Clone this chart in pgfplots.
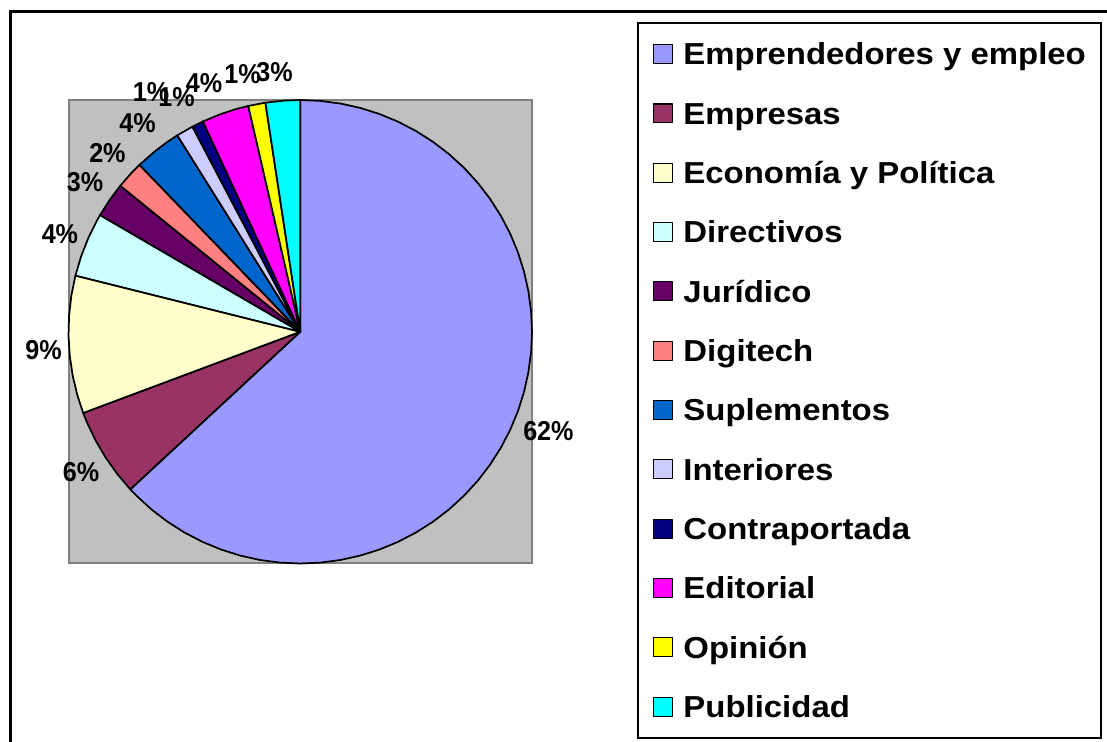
\documentclass[border=0pt]{standalone}
\usepackage{fontspec}
\setmainfont{Liberation Sans}
\newfontfamily\legfam[FakeStretch=1.085]{Liberation Sans}
\newfontfamily\lblfam[FakeStretch=0.92]{Liberation Sans}
\usepackage{pgfplots}
\pgfplotsset{compat=1.18}
\definecolor{plotbg}{RGB}{192,192,192}
\definecolor{plotborder}{RGB}{128,128,128}
\definecolor{cE}{RGB}{153,153,255}
\definecolor{cEm}{RGB}{153,51,102}
\definecolor{cEc}{RGB}{255,255,204}
\definecolor{cD}{RGB}{204,255,255}
\definecolor{cJ}{RGB}{102,0,102}
\definecolor{cDg}{RGB}{255,128,128}
\definecolor{cS}{RGB}{0,102,204}
\definecolor{cI}{RGB}{204,204,255}
\definecolor{cC}{RGB}{0,0,128}
\definecolor{cEd}{RGB}{255,0,255}
\definecolor{cO}{RGB}{255,255,0}
\definecolor{cP}{RGB}{0,255,255}
% Shares (%): Emprendedores 63.1, Empresas 6.2, Economia 9.6, Directivos 4.5,
% Juridico 2.45, Digitech 1.95, Suplementos 3.3, Interiores 1.2, Contraportada 0.8,
% Editorial 3.3, Opinion 1.2, Publicidad 2.4  (slices clockwise from 12 o'clock)
\begin{document}
\begin{tikzpicture}[x=0.75pt,y=0.75pt]
\begin{axis}[
  at={(51.375pt,133.875pt)}, anchor=south west,
  width=347.6pt, height=347.6pt, scale only axis,
  xmin=-1, xmax=1, ymin=-1, ymax=1,
  xtick=\empty, ytick=\empty,
  axis background/.style={fill=plotbg},
  axis line style={draw=plotborder, line width=1.5pt},
  clip=false,
  every axis plot/.append style={draw=black, line width=1.3pt, line join=round},
  legend image code/.code={\draw[#1, line width=0.9pt] (0pt,-7.1pt) rectangle (14.25pt,7.1pt);},
  legend style={at={(axis description cs:1.2265,1.1683)}, anchor=north west,
    draw=black, line width=1.5pt, fill=white,
    inner xsep=11pt, inner ysep=12.25pt, row sep=22.5pt,
    font=\legfam\bfseries\fontsize{22.75}{27}\selectfont,
    cells={anchor=west},
    nodes={inner sep=0pt, text height=19.15pt, text depth=2.85pt},
    /tikz/every odd column/.append style={column sep=8pt}},
]
\addplot[fill=cE, data cs=polar] coordinates {(0,0) (90,1) (85,1) (80,1) (75,1) (70,1) (65,1) (60,1) (55,1) (50,1) (45,1) (40,1) (35,1) (30,1) (25,1) (20,1) (15,1) (10,1) (5,1) (0,1) (-5,1) (-10,1) (-15,1) (-20,1) (-25,1) (-30,1) (-35,1) (-40,1) (-45,1) (-50,1) (-55,1) (-60,1) (-65,1) (-70,1) (-75,1) (-80,1) (-85,1) (-90,1) (-95,1) (-100,1) (-105,1) (-110,1) (-115,1) (-120,1) (-125,1) (-130,1) (-135,1) (-137.16,1)} -- cycle;
\addlegendentry{Emprendedores y empleo}
\addplot[fill=cEm, data cs=polar] coordinates {(0,0) (-137.16,1) (-142,1) (-147,1) (-152,1) (-157,1) (-159.48,1)} -- cycle;
\addlegendentry{Empresas}
\addplot[fill=cEc, data cs=polar] coordinates {(0,0) (-159.48,1) (-164,1) (-169,1) (-174,1) (-179,1) (-184,1) (-189,1) (-194.04,1)} -- cycle;
\addlegendentry{Economía y Política}
\addplot[fill=cD, data cs=polar] coordinates {(0,0) (-194.04,1) (-199,1) (-204,1) (-209,1) (-210.24,1)} -- cycle;
\addlegendentry{Directivos}
\addplot[fill=cJ, data cs=polar] coordinates {(0,0) (-210.24,1) (-215,1) (-219.06,1)} -- cycle;
\addlegendentry{Jurídico}
\addplot[fill=cDg, data cs=polar] coordinates {(0,0) (-219.06,1) (-223,1) (-226.08,1)} -- cycle;
\addlegendentry{Digitech}
\addplot[fill=cS, data cs=polar] coordinates {(0,0) (-226.08,1) (-231,1) (-235,1) (-237.96,1)} -- cycle;
\addlegendentry{Suplementos}
\addplot[fill=cI, data cs=polar] coordinates {(0,0) (-237.96,1) (-242.28,1)} -- cycle;
\addlegendentry{Interiores}
\addplot[fill=cC, data cs=polar] coordinates {(0,0) (-242.28,1) (-245.16,1)} -- cycle;
\addlegendentry{Contraportada}
\addplot[fill=cEd, data cs=polar] coordinates {(0,0) (-245.16,1) (-250,1) (-254,1) (-257.04,1)} -- cycle;
\addlegendentry{Editorial}
\addplot[fill=cO, data cs=polar] coordinates {(0,0) (-257.04,1) (-261.36,1)} -- cycle;
\addlegendentry{Opinión}
\addplot[fill=cP, data cs=polar] coordinates {(0,0) (-261.36,1) (-266,1) (-270,1)} -- cycle;
\addlegendentry{Publicidad}
\begin{scope}[every node/.style={font=\lblfam\bfseries\fontsize{20.5}{24}\selectfont, inner sep=0pt, text height=14.7pt, text depth=0pt, anchor=center}]
\node at (axis cs:1.071,-0.425) {62\%};
\node at (axis cs:-0.946,-0.606) {6\%};
\node at (axis cs:-1.108,-0.076) {9\%};
\node at (axis cs:-1.037,0.425) {4\%};
\node at (axis cs:-0.929,0.649) {3\%};
\node at (axis cs:-0.832,0.772) {2\%};
\node at (axis cs:-0.702,0.902) {4\%};
\node at (axis cs:-0.644,1.036) {1\%};
\node at (axis cs:-0.534,1.014) {1\%};
\node at (axis cs:-0.415,1.074) {4\%};
\node at (axis cs:-0.249,1.115) {1\%};
\node at (axis cs:-0.111,1.122) {3\%};
\end{scope}
\end{axis}
\draw[line width=2.25pt] (10,730) rectangle (1125,-20);
\pgfresetboundingbox
\useasboundingbox (0,0) rectangle (1107,742);
\end{tikzpicture}
\end{document}
